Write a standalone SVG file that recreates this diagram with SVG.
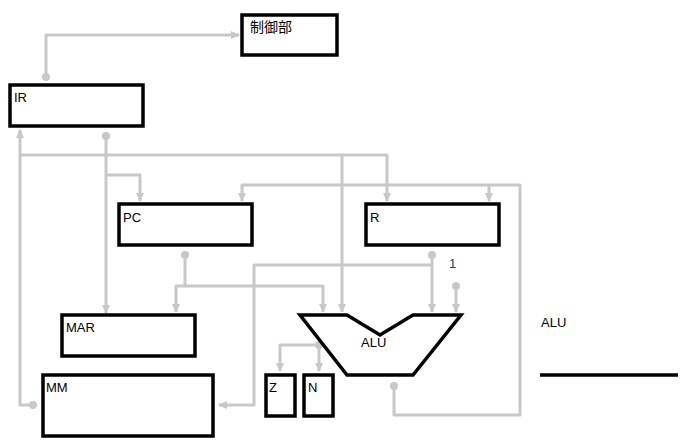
<svg xmlns="http://www.w3.org/2000/svg" width="685" height="448" viewBox="0 0 685 448">
<style>
.box{fill:#fff;stroke:#000;stroke-width:3.5}
.w{fill:none;stroke:#c8c8c8;stroke-width:3;stroke-linejoin:round}
.dot{fill:#c8c8c8}
text{font-family:"Liberation Sans",Arial,"Noto Sans CJK JP",sans-serif;font-size:13px;fill:#000}
</style>
<defs>
<marker id="a" markerUnits="userSpaceOnUse" markerWidth="10" markerHeight="10" viewBox="0 0 10 10" refX="8" refY="5" orient="auto">
<path d="M0,1 L9,5 L0,9 Z" fill="#c8c8c8"/>
</marker>
</defs>
<g id="connectors">
<path class="w" d="M46,77 V35 H239" marker-end="url(#a)"/>
<circle class="dot" cx="46" cy="77" r="4"/>
<path class="w" d="M106,136 V313" marker-end="url(#a)"/>
<path class="w" d="M106,175 H140 V201" marker-end="url(#a)"/>
<circle class="dot" cx="106" cy="136" r="4"/>
<path class="w" d="M33,405 H20 V130" marker-end="url(#a)"/>
<circle class="dot" cx="33" cy="405" r="4"/>
<path class="w" d="M20,155 H387 V201" marker-end="url(#a)"/>
<path class="w" d="M342,155 V312" marker-end="url(#a)"/>
<path class="w" d="M394,386 V415 H520 V185 H242 V201" marker-end="url(#a)"/>
<path class="w" d="M489,185 V201" marker-end="url(#a)"/>
<circle class="dot" cx="394" cy="386" r="4"/>
<path class="w" d="M185,255 V286 H176 V312" marker-end="url(#a)"/>
<path class="w" d="M185,286 H323 V312" marker-end="url(#a)"/>
<circle class="dot" cx="185" cy="255" r="4"/>
<path class="w" d="M432,255 V312" marker-end="url(#a)"/>
<path class="w" d="M432,265 H254 V405 H219" marker-end="url(#a)"/>
<circle class="dot" cx="432" cy="255" r="4"/>
<path class="w" d="M456,286 V312" marker-end="url(#a)"/>
<circle class="dot" cx="456" cy="286" r="4"/>
<path class="w" d="M319,345 H280 V371" marker-end="url(#a)"/>
<path class="w" d="M319,345 V371" marker-end="url(#a)"/>
<circle class="dot" cx="319" cy="345" r="4"/>
</g>
<g id="control"><rect class="box" x="242" y="15" width="95" height="40"/><text x="250" y="32" style="font-size:14px">制御部</text></g>
<g id="IR"><rect class="box" x="10" y="85" width="133" height="41"/><text x="14" y="102">IR</text></g>
<g id="PC"><rect class="box" x="119" y="204" width="133" height="41"/><text x="123" y="222">PC</text></g>
<g id="R"><rect class="box" x="366" y="204" width="133" height="41"/><text x="370" y="222">R</text></g>
<g id="MAR"><rect class="box" x="62" y="315" width="133" height="41"/><text x="66" y="332">MAR</text></g>
<g id="MM"><rect class="box" x="43" y="375" width="170" height="61"/><text x="46" y="392">MM</text></g>
<g id="Z"><rect class="box" x="266" y="375" width="29" height="41"/><text x="269" y="392">Z</text></g>
<g id="N"><rect class="box" x="304" y="375" width="29" height="41"/><text x="308" y="392">N</text></g>
<g id="ALU"><polygon points="300,315 347,315 380,335 413,315 461,315 413,375 347,375" fill="#fff" stroke="#000" stroke-width="3.5"/><text x="361" y="347">ALU</text></g>
<g id="const1"><text x="449" y="268" style="fill:#00448a">1</text></g>
<g id="legend"><text x="541" y="327">ALU</text><line x1="540" y1="375" x2="678" y2="375" stroke="#000" stroke-width="3.5"/></g>
</svg>
